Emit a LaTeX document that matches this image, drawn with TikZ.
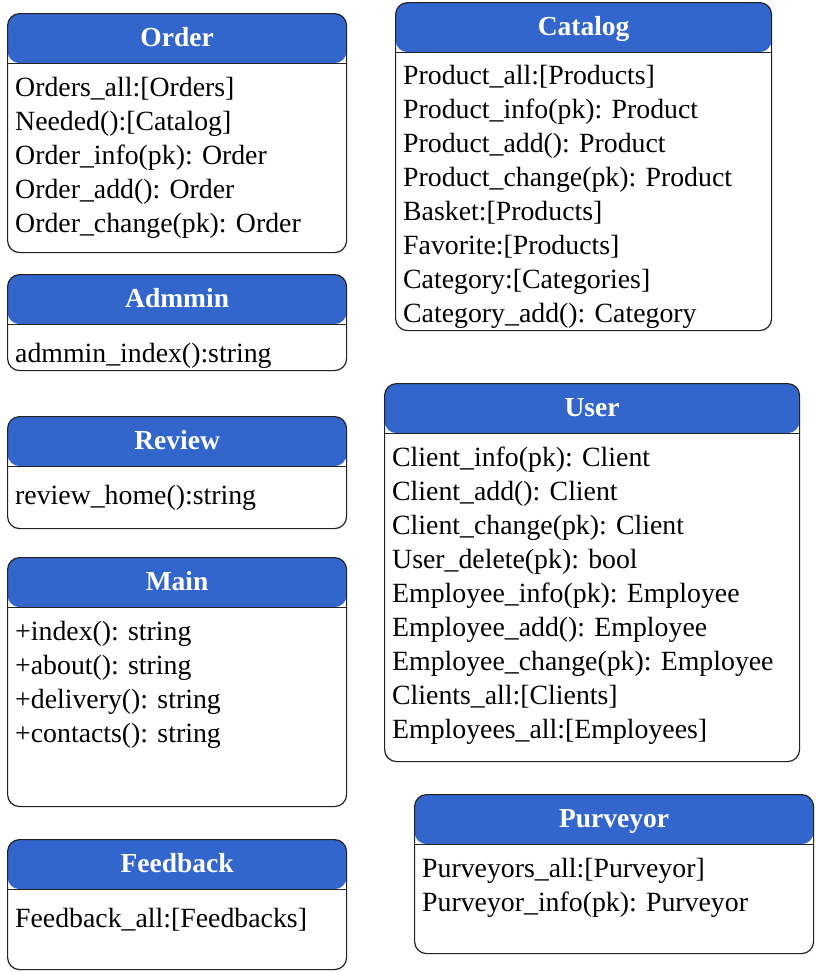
\documentclass[tikz,border=0pt]{standalone}
\usepackage{fontspec}
\setmainfont{Liberation Serif}
\usepackage{tikz}
\usetikzlibrary{calc}

\definecolor{headblue}{HTML}{3366CC}
\definecolor{edgegray}{HTML}{222222}

\tikzset{
  classbox/.style={draw=edgegray, line width=1.2pt, rounded corners=12pt, fill=white,
    inner sep=0pt, anchor=north west,
    path picture={
      \fill[headblue] (path picture bounding box.north west) rectangle ([yshift=-49.5pt]path picture bounding box.north east);
      \draw[edgegray, line width=1.2pt] ([yshift=-49.5pt]path picture bounding box.north west) -- ([yshift=-49.5pt]path picture bounding box.north east);
    }},
  classtitle/.style={text=white, inner sep=0pt, text height=18.2pt, text depth=0pt,
    font=\fontsize{27.5}{33}\selectfont\bfseries},
  % the strut fixes the top of the first line
  classbody/.style={inner sep=0pt, align=left, anchor=north west,
    font=\fontsize{27.8}{34}\selectfont, execute at begin node=\strut}
}

\begin{document}
\begin{tikzpicture}[x=1pt,y=-1pt]
  \useasboundingbox (0,0) rectangle (815,972);

  % left column
  \node[classbox, minimum width=339pt, minimum height=239pt](order) at (7,13){};
  \node[classtitle](ordertitle) at ($(order.north)+(0,24.5)$){Order};
  \node[classbody](orderbody) at ($(order.north west)+(8,64.2)$){Orders\_all:[Orders]\\Needed():[Catalog]\\Order\_info(pk): Order\\Order\_add(): Order\\Order\_change(pk): Order};

  \node[classbox, minimum width=339pt, minimum height=96pt](admmin) at (7,274){};
  \node[classtitle](admmintitle) at ($(admmin.north)+(0,24.5)$){Admmin};
  \node[classbody](admminbody) at ($(admmin.north west)+(8,64.2)$){admmin\_index():string};

  \node[classbox, minimum width=339pt, minimum height=112pt](review) at (7,416){};
  \node[classtitle](reviewtitle) at ($(review.north)+(0,24.5)$){Review};
  \node[classbody](reviewbody) at ($(review.north west)+(8,64.2)$){review\_home():string};

  \node[classbox, minimum width=339pt, minimum height=249pt](main) at (7,557){};
  \node[classtitle](maintitle) at ($(main.north)+(0,24.5)$){Main};
  \node[classbody](mainbody) at ($(main.north west)+(8,64.2)$){+index(): string\\+about(): string\\+delivery(): string\\+contacts(): string};

  \node[classbox, minimum width=339pt, minimum height=130pt](feedback) at (7,839){};
  \node[classtitle](feedbacktitle) at ($(feedback.north)+(0,24.5)$){Feedback};
  \node[classbody](feedbackbody) at ($(feedback.north west)+(8,64.2)$){Feedback\_all:[Feedbacks]};

  % right column
  \node[classbox, minimum width=376pt, minimum height=328pt](catalog) at (395,2){};
  \node[classtitle](catalogtitle) at ($(catalog.north)+(0,24.5)$){Catalog};
  \node[classbody](catalogbody) at ($(catalog.north west)+(8,63.2)$){Product\_all:[Products]\\Product\_info(pk): Product\\Product\_add(): Product\\Product\_change(pk): Product\\Basket:[Products]\\Favorite:[Products]\\Category:[Categories]\\Category\_add(): Category};

  \node[classbox, minimum width=415pt, minimum height=378pt](user) at (384,383){};
  \node[classtitle](usertitle) at ($(user.north)+(0,24.5)$){User};
  \node[classbody](userbody) at ($(user.north west)+(8,64.2)$){Client\_info(pk): Client\\Client\_add(): Client\\Client\_change(pk): Client\\User\_delete(pk): bool\\Employee\_info(pk): Employee\\Employee\_add(): Employee\\Employee\_change(pk): Employee\\Clients\_all:[Clients]\\Employees\_all:[Employees]};

  \node[classbox, minimum width=399pt, minimum height=159pt](purveyor) at (414,794){};
  \node[classtitle](purveyortitle) at ($(purveyor.north)+(0,24.5)$){Purveyor};
  \node[classbody](purveyorbody) at ($(purveyor.north west)+(8,64.2)$){Purveyors\_all:[Purveyor]\\Purveyor\_info(pk): Purveyor};
\end{tikzpicture}
\end{document}
